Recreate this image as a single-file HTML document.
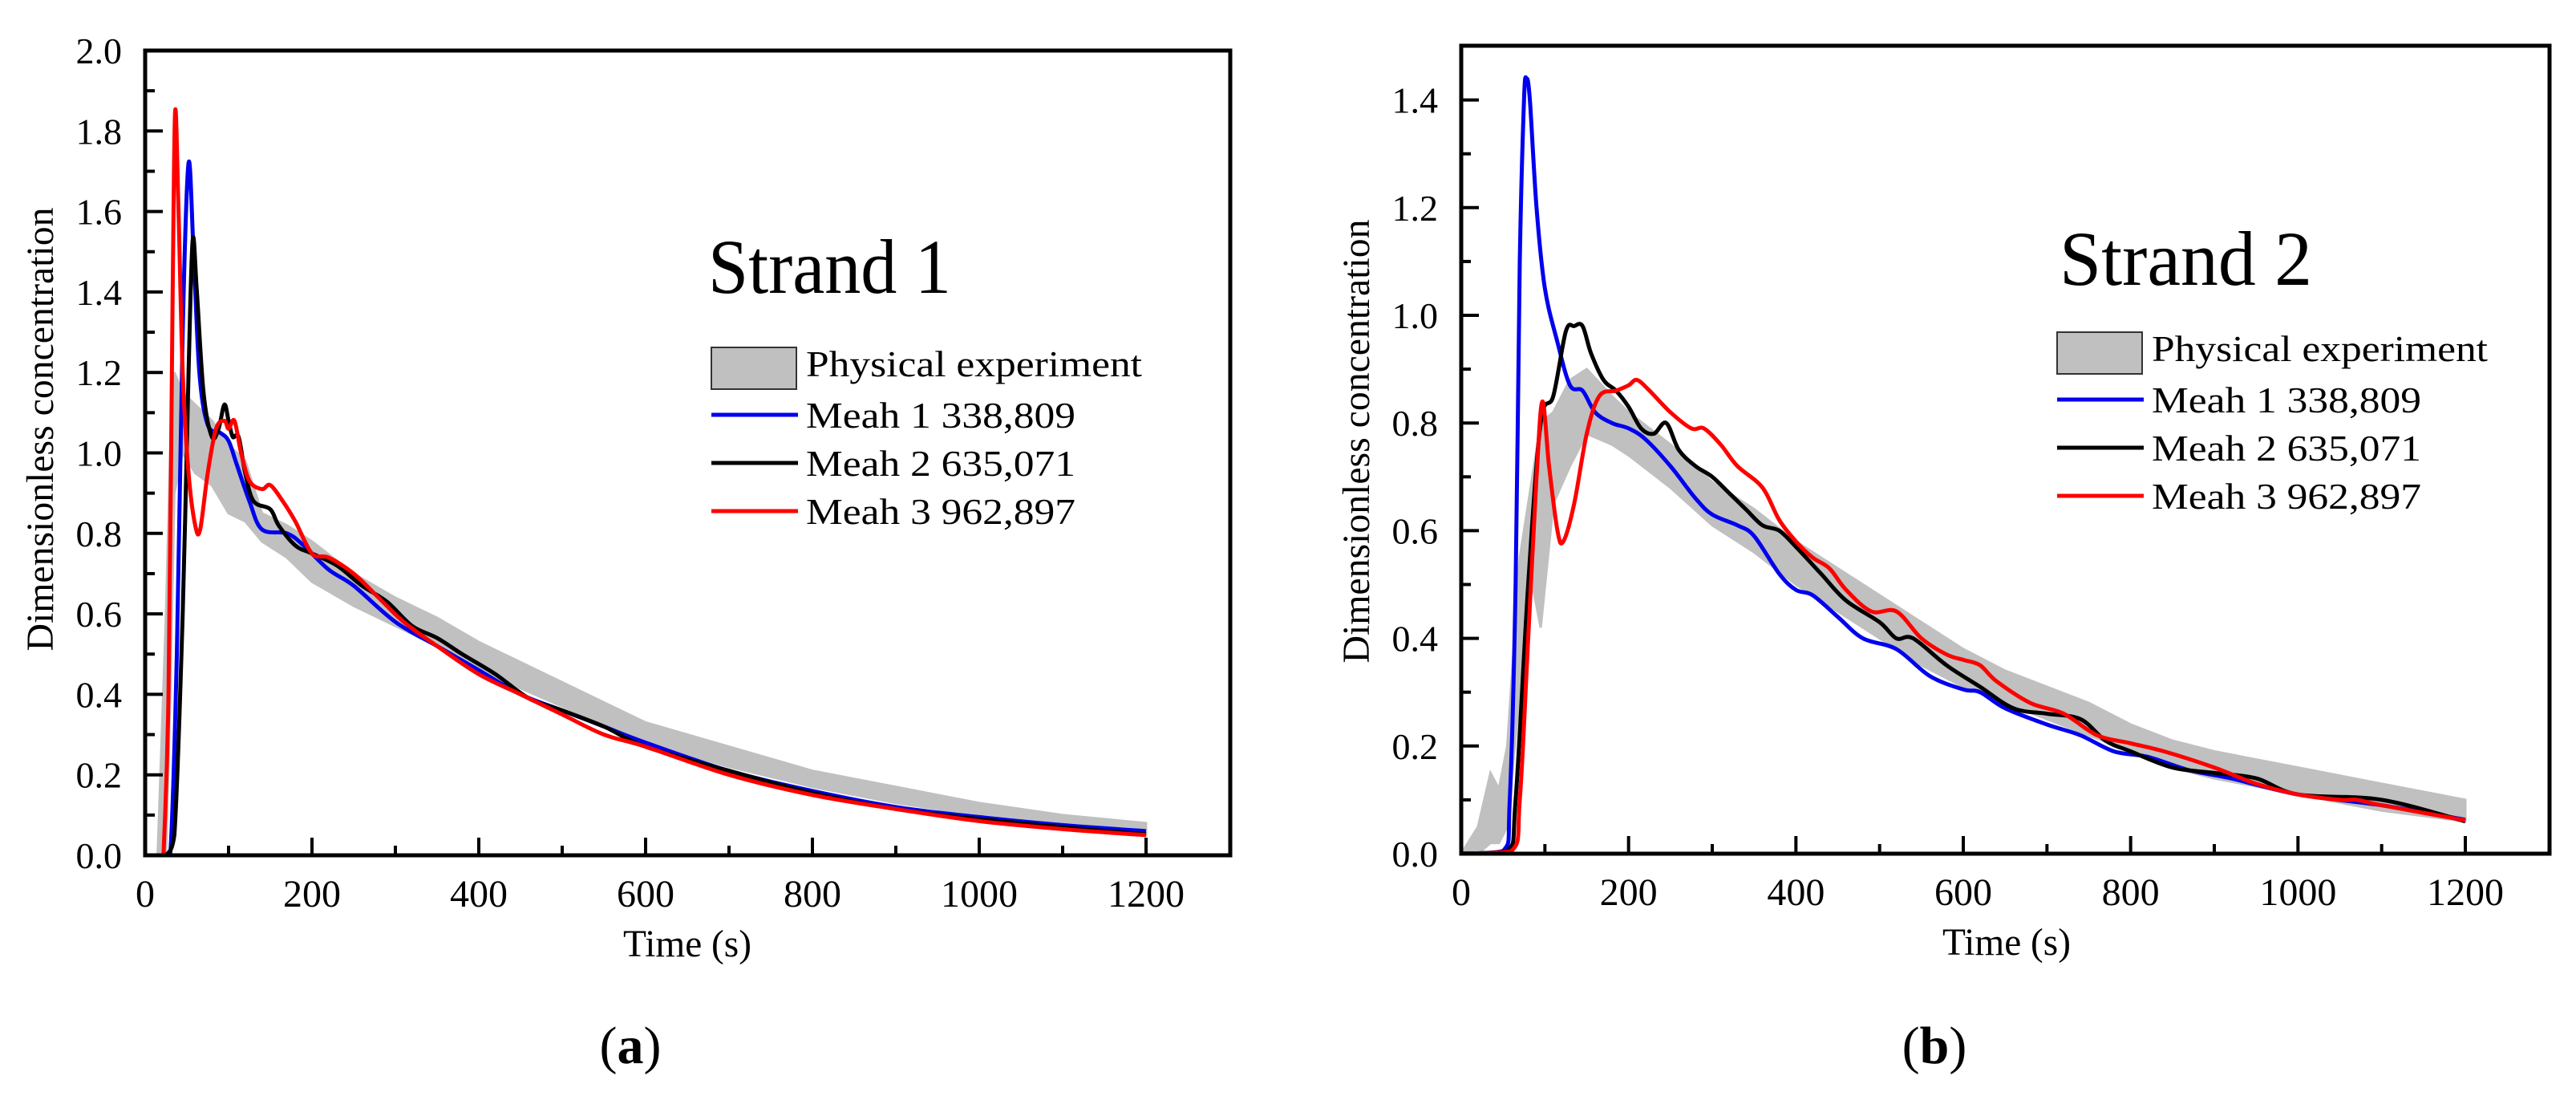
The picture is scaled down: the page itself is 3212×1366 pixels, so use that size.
<!DOCTYPE html>
<html><head><meta charset="utf-8">
<style>
html,body{margin:0;padding:0;background:#fff;}
svg{display:block;}
svg text{font-family:"Liberation Serif","Times New Roman",serif;}
</style></head>
<body>
<svg id="chart" width="3212" height="1366" viewBox="0 0 3212 1366" xmlns="http://www.w3.org/2000/svg"></svg>
<script>
// ---------- Panel (a) data: Strand 1 ----------
const aBlueT=[20,30,38,45,52,58,65,75,90,100,110,125,140,170,190,220,250,300,350,400,450,500,550,600,700,800,900,1000,1100,1200];
const aBlueV=[0,0,0.5,1.3,1.72,1.5,1.2,1.07,1.05,1.03,0.97,0.88,0.81,0.80,0.77,0.71,0.67,0.58,0.52,0.46,0.40,0.36,0.32,0.28,0.21,0.16,0.12,0.095,0.075,0.06];
const aBlackT=[25,35,45,52,57,62,70,80,88,95,100,105,112,120,130,150,160,180,200,230,260,290,320,350,380,420,460,500,550,600,700,800,900,1000,1100,1200];
const aBlackV=[0,0.05,0.6,1.2,1.53,1.4,1.15,1.04,1.06,1.12,1.08,1.04,1.04,0.95,0.88,0.86,0.82,0.77,0.75,0.72,0.67,0.63,0.57,0.54,0.50,0.45,0.39,0.36,0.32,0.27,0.21,0.155,0.115,0.09,0.07,0.052];
const aRedT=[22,28,33,36,40,45,52,60,66,75,85,95,100,107,115,125,140,150,165,180,200,220,250,280,310,350,400,450,500,550,600,700,800,900,1000,1100,1200];
const aRedV=[0,0.4,1.4,1.85,1.6,1.2,0.95,0.82,0.81,0.95,1.06,1.08,1.06,1.08,1.0,0.93,0.91,0.92,0.88,0.83,0.75,0.74,0.70,0.64,0.58,0.52,0.45,0.40,0.35,0.30,0.27,0.20,0.15,0.115,0.085,0.065,0.05];
const aExpT=[15,20,25,30,35,45,60,80,100,120,140,170,200,250,300,350,400,500,600,700,800,900,1000,1100,1200];
const aExpLo=[0,0,0,0.4,0.9,1.0,0.95,0.92,0.85,0.83,0.78,0.74,0.68,0.62,0.57,0.52,0.46,0.37,0.28,0.22,0.17,0.13,0.10,0.07,0.05];
const aExpHi=[0,0.3,0.6,1.0,1.2,1.15,1.12,1.08,1.02,0.98,0.85,0.82,0.78,0.70,0.64,0.59,0.53,0.43,0.33,0.27,0.21,0.17,0.13,0.10,0.08];
const aYTicks=[0,0.2,0.4,0.6,0.8,1.0,1.2,1.4,1.6,1.8,2.0];
// ---------- Panel (b) data: Strand 2 ----------
const bBlueT=[0,50,58,65,70,75,78,82,90,100,115,130,145,160,180,200,220,250,280,300,330,350,380,400,420,450,480,520,560,600,620,650,700,740,780,820,870,920,1000,1100,1200];
const bBlueV=[0,0.005,0.1,0.5,1.1,1.4,1.44,1.4,1.2,1.05,0.95,0.87,0.86,0.82,0.80,0.79,0.77,0.72,0.66,0.63,0.61,0.59,0.52,0.49,0.48,0.44,0.40,0.38,0.33,0.305,0.30,0.27,0.24,0.22,0.19,0.18,0.155,0.14,0.11,0.09,0.063];
const bBlackT=[0,55,65,80,95,110,125,135,145,155,170,185,200,215,230,245,260,280,300,320,340,360,380,400,430,460,500,520,540,580,620,660,700,740,770,800,850,900,950,1000,1100,1200];
const bBlackV=[0,0.005,0.1,0.5,0.8,0.85,0.97,0.98,0.98,0.93,0.88,0.86,0.83,0.79,0.78,0.80,0.75,0.72,0.70,0.67,0.64,0.61,0.60,0.57,0.52,0.47,0.43,0.40,0.40,0.35,0.31,0.27,0.26,0.25,0.21,0.19,0.16,0.15,0.14,0.11,0.10,0.06];
const bRedT=[0,60,70,80,90,97,105,115,122,135,150,165,185,200,210,225,250,275,290,310,330,360,380,400,420,440,460,490,520,550,580,600,620,640,680,720,760,800,840,900,950,1000,1050,1070,1100,1200];
const bRedV=[0,0.005,0.1,0.4,0.7,0.84,0.72,0.60,0.58,0.65,0.78,0.85,0.86,0.87,0.88,0.86,0.82,0.79,0.79,0.76,0.72,0.68,0.62,0.58,0.55,0.53,0.49,0.45,0.45,0.40,0.37,0.36,0.35,0.32,0.28,0.26,0.22,0.205,0.19,0.16,0.13,0.11,0.10,0.10,0.09,0.062];
const bExpT=[0,20,35,45,55,70,85,95,110,130,150,180,200,250,300,350,400,450,500,550,600,650,700,750,800,850,900,1000,1100,1200];
const bExpLo=[0,0,0.02,0.02,0.05,0.3,0.5,0.42,0.65,0.72,0.78,0.76,0.74,0.68,0.61,0.56,0.50,0.45,0.40,0.35,0.31,0.28,0.25,0.22,0.19,0.16,0.14,0.11,0.08,0.06];
const bExpHi=[0,0.05,0.15,0.12,0.2,0.55,0.7,0.8,0.82,0.88,0.9,0.85,0.82,0.76,0.69,0.64,0.58,0.53,0.48,0.43,0.38,0.34,0.31,0.28,0.24,0.21,0.19,0.16,0.13,0.10];
const bYTicks=[0,0.2,0.4,0.6,0.8,1.0,1.2,1.4];
const xTicks=[0,200,400,600,800,1000,1200];
const legendLabels=["Physical experiment","Meah 1 338,809","Meah 2 635,071","Meah 3 962,897"];

const NS="http://www.w3.org/2000/svg";
const FONT='"Liberation Serif", "Times New Roman", serif';
const svg=document.getElementById('chart');
function mk(tag,attrs,parent){const e=document.createElementNS(NS,tag);for(const k in attrs)e.setAttribute(k,attrs[k]);if(tag==='text')e.setAttribute('font-family',FONT);(parent||svg).appendChild(e);return e;}
function smooth(P,ymax){
  const c=v=>Math.min(v,ymax);
  let d='M'+P[0][0].toFixed(1)+' '+P[0][1].toFixed(1);
  for(let i=0;i<P.length-1;i++){
    const p0=P[Math.max(0,i-1)],p1=P[i],p2=P[i+1],p3=P[Math.min(P.length-1,i+2)];
    const c1x=p1[0]+(p2[0]-p0[0])/6,c1y=c(p1[1]+(p2[1]-p0[1])/6);
    const c2x=p2[0]-(p3[0]-p1[0])/6,c2y=c(p2[1]-(p3[1]-p1[1])/6);
    d+=`C${c1x.toFixed(1)} ${c1y.toFixed(1)} ${c2x.toFixed(1)} ${c2y.toFixed(1)} ${p2[0].toFixed(1)} ${p2[1].toFixed(1)}`;
  }
  return d;
}

function panel(P){
  const g=mk('g',{});
  
  
  const sx=t=>P.x0+t/1200*(P.x1200-P.x0);
  const sy=v=>P.y0-v*P.ppu;
  let d='';
  P.expT.forEach((t,i)=>{d+=(i?'L':'M')+sx(t).toFixed(1)+' '+sy(P.expHi[i]).toFixed(1);});
  for(let i=P.expT.length-1;i>=0;i--)d+='L'+sx(P.expT[i]).toFixed(1)+' '+sy(P.expLo[i]).toFixed(1);
  const band=mk('path',{d:d+'Z',fill:'#c0c0c0',stroke:'#c0c0c0','stroke-width':3},g);
  
  
  const series=[['series-mesh1',P.blueT,P.blueV,'#0000ee'],['series-mesh2',P.blackT,P.blackV,'#000'],['series-mesh3',P.redT,P.redV,'#ff0000']];
  series.forEach(s=>{
    const pts=s[1].map((t,i)=>[sx(t),sy(s[2][i])]);
    const pl=mk('path',{d:smooth(pts,P.y0),fill:'none',stroke:s[3],'stroke-width':5,'stroke-linejoin':'round'},g);
    
    
  });
  const fr=mk('rect',{x:P.x0,y:P.top,width:P.right-P.x0,height:P.y0-P.top,fill:'none',stroke:'#000','stroke-width':5},g);
  
  
  const maxY=P.yTicks[P.yTicks.length-1];
  for(let v=0;v<=maxY+0.05;v+=0.1){
    const major=Math.round(v*10)%2===0;
    mk('line',{x1:P.x0,x2:P.x0+(major?22:12),y1:sy(v),y2:sy(v),stroke:'#000','stroke-width':4},g);
  }
  P.yTicks.forEach(v=>{
    const t=mk('text',{x:P.x0-29,y:sy(v)+16,'text-anchor':'end','font-size':46},g);
    t.textContent=v.toFixed(1);
    
    
  });
  for(let x=100;x<=1200;x+=100){
    const major=x%200===0;
    mk('line',{x1:sx(x),x2:sx(x),y1:P.y0,y2:P.y0-(major?22:12),stroke:'#000','stroke-width':4},g);
  }
  xTicks.forEach(x=>{
    const t=mk('text',{x:sx(x),y:P.y0+64,'text-anchor':'middle','font-size':48},g);
    t.textContent=x;
    
    
  });
  const xt=mk('text',{x:P.xtX,y:P.y0+126,'text-anchor':'middle','font-size':48,textLength:160,lengthAdjust:'spacingAndGlyphs'},g);
  xt.textContent='Time (s)';
  
  
  const yt=mk('text',{x:0,y:0,'text-anchor':'middle','font-size':48,textLength:553,lengthAdjust:'spacingAndGlyphs',transform:`translate(${P.ytX},${P.ytY}) rotate(-90)`},g);
  yt.textContent='Dimensionless concentration';
  
  
  const st=mk('text',{x:P.stX,y:P.stY,'font-size':96,textLength:P.stW,lengthAdjust:'spacingAndGlyphs'},g);
  st.textContent=P.title;
  
  
  const lg=mk('g',{},g);
  
  
  mk('rect',{x:P.lgX,y:P.lgY,width:106,height:52,fill:'#c0c0c0',stroke:'#333','stroke-width':2},lg);
  const cols=['#0000ee','#000','#ff0000'];
  const widths=[419,336,336,336];
  legendLabels.forEach((lab,i)=>{
    let base;
    if(i===0){base=P.lgY+36;}
    else{
      const yy=P.line1Y+(i-1)*60;
      mk('line',{x1:P.lgX,x2:P.lgX+108,y1:yy,y2:yy,stroke:cols[i-1],'stroke-width':5},lg);
      base=yy+16;
    }
    const t=mk('text',{x:P.lgX+118,y:base,'font-size':46,textLength:widths[i],lengthAdjust:'spacingAndGlyphs'},lg);
    t.textContent=lab;
    
    
  });
  const cap=mk('text',{x:P.capX,y:1325,'text-anchor':'middle','font-size':66},g);
  cap.innerHTML='(<tspan font-weight="bold">'+P.cap+'</tspan>)';
  
  
}

panel({id:'panel-a-strand-1',x0:181,x1200:1429,right:1534,top:63,y0:1066,ppu:501.5,
  blueT:aBlueT,blueV:aBlueV,blackT:aBlackT,blackV:aBlackV,redT:aRedT,redV:aRedV,
  expT:aExpT,expLo:aExpLo,expHi:aExpHi,yTicks:aYTicks,xtX:857,
  ytX:66,ytY:535,title:'Strand 1',stX:883,stY:365,stW:303,lgX:887,lgY:433,line1Y:517,capX:786,cap:'a'});
panel({id:'panel-b-strand-2',x0:1822,x1200:3074,right:3179,top:57,y0:1064,ppu:671,
  blueT:bBlueT,blueV:bBlueV,blackT:bBlackT,blackV:bBlackV,redT:bRedT,redV:bRedV,
  expT:bExpT,expLo:bExpLo,expHi:bExpHi,yTicks:bYTicks,xtX:2502,
  ytX:1707,ytY:550,title:'Strand 2',stX:2568,stY:355,stW:315,lgX:2565,lgY:414,line1Y:498,capX:2412,cap:'b'});
</script>
</body></html>
